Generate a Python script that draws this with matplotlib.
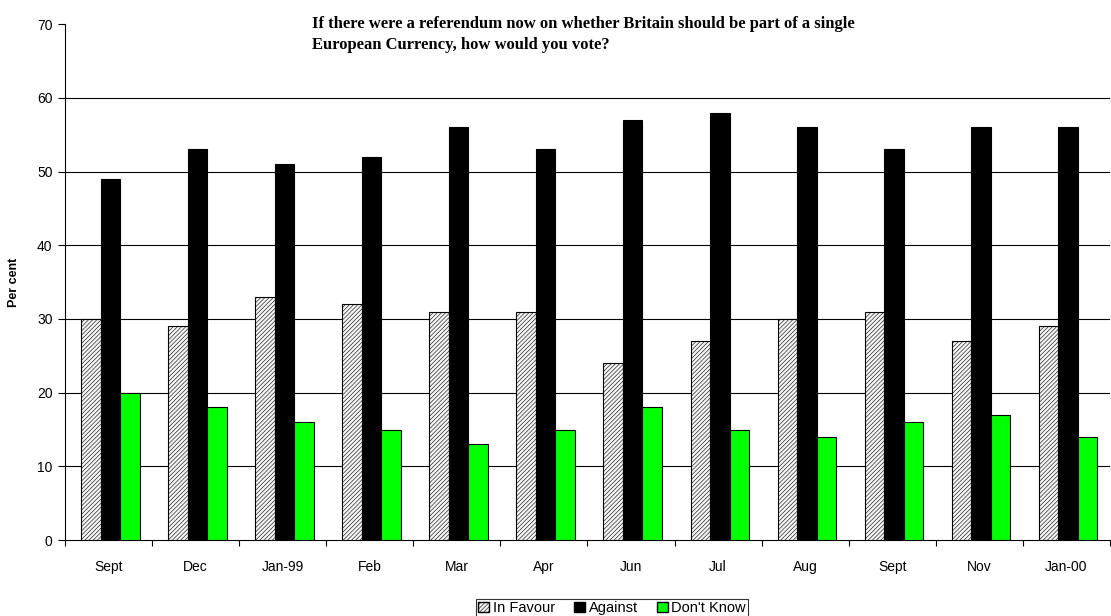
import matplotlib
matplotlib.use("Agg")
import matplotlib.pyplot as plt
import numpy as np
from matplotlib.patches import Patch

months = ["Sept", "Dec", "Jan-99", "Feb", "Mar", "Apr", "Jun", "Jul", "Aug",
          "Sept", "Nov", "Jan-00"]
in_favour = [30, 29, 33, 32, 31, 31, 24, 27, 30, 31, 27, 29]
against = [49, 53, 51, 52, 56, 53, 57, 58, 56, 53, 56, 56]
dont_know = [20, 18, 16, 15, 13, 15, 18, 15, 14, 16, 17, 14]

plt.rcParams["font.family"] = ["Liberation Sans", "DejaVu Sans"]
plt.rcParams["hatch.color"] = "#a0a0a0"
plt.rcParams["hatch.linewidth"] = 0.4

fig = plt.figure(figsize=(11.11, 6.16), dpi=100)
ax = fig.add_axes([0.0585, 0.123, 0.9405, 0.838])

x = np.arange(len(months))
w = 0.224
hatch = "////////"
ax.bar(x - w + 0.02, in_favour, w, color="#f4f4f4", edgecolor="black",
       linewidth=0.8, hatch=hatch, zorder=3)
ax.bar(x + 0.02, against, w, color="black", edgecolor="black",
       linewidth=0.8, zorder=3)
ax.bar(x + w + 0.02, dont_know, w, color="#00ff00", edgecolor="black",
       linewidth=0.8, zorder=3)

ax.set_xlim(-0.5, len(months) - 0.5)
ax.set_ylim(0, 70)
ax.set_yticks(range(0, 71, 10))
ax.tick_params(axis="y", labelsize=10, length=5, width=0.8, pad=4)
ax.set_xticks(x)
ax.set_xticklabels(months)
ax.tick_params(axis="x", which="major", length=0, labelsize=10, pad=14)
ax.set_xticks(np.arange(-0.5, len(months)), minor=True)
ax.tick_params(axis="x", which="minor", length=4, width=0.8)

for v in range(10, 61, 10):
    ax.axhline(v, color="black", linewidth=0.8, zorder=1)

for s in ["top", "right"]:
    ax.spines[s].set_visible(False)
for s in ["left", "bottom"]:
    ax.spines[s].set_linewidth(0.8)

ax.set_ylabel("Per cent", fontsize=9, fontweight="bold", labelpad=12)

fig.text(0.281, 0.974,
         "If there were a referendum now on whether Britain should be part of a single\n"
         "European Currency, how would you vote?",
         ha="left", va="top", fontsize=12, fontweight="bold",
         family="Liberation Serif", linespacing=1.45)

handles = [
    Patch(facecolor="#f4f4f4", edgecolor="black", hatch=hatch, label="In Favour"),
    Patch(facecolor="black", edgecolor="black", label="Against"),
    Patch(facecolor="#00ff00", edgecolor="black", label="Don't Know"),
]
leg = fig.legend(handles=handles, loc="upper center",
                 bbox_to_anchor=(0.551, 1 - 599 / 616), ncol=3,
                 fontsize=10.5, frameon=True, fancybox=False,
                 handlelength=0.75, handleheight=0.75, handletextpad=0.25,
                 columnspacing=1.3, borderpad=0.15, borderaxespad=0)
leg.get_frame().set_edgecolor("black")
leg.get_frame().set_linewidth(0.8)

fig.savefig("out.png", dpi=100)
